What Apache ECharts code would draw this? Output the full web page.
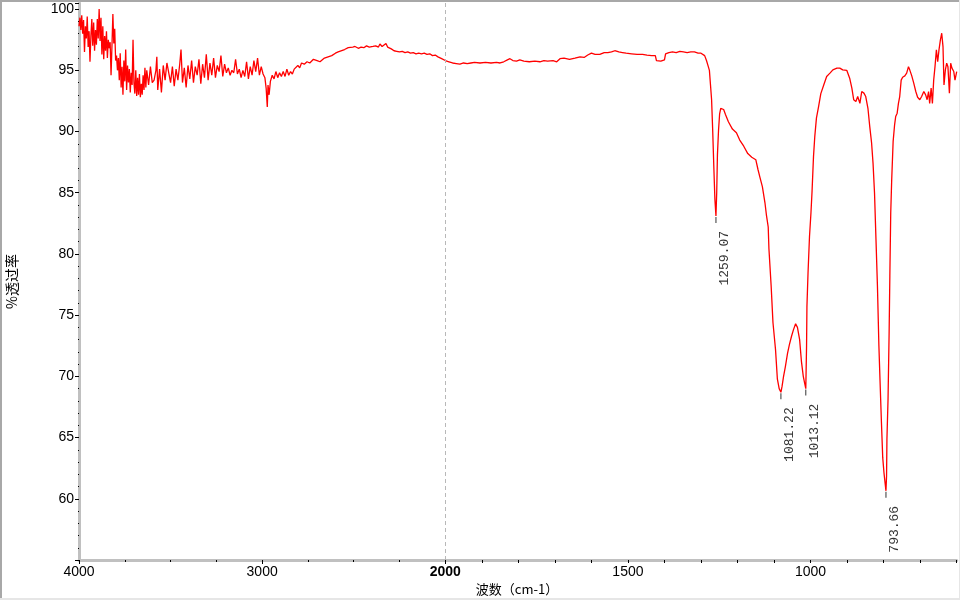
<!DOCTYPE html>
<html><head><meta charset="utf-8">
<script src="https://cdn.jsdelivr.net/npm/echarts@6/dist/echarts.min.js"></script>
<style>html,body{margin:0;padding:0;background:#fff}#c{width:960px;height:600px}</style>
</head><body><div id="c"></div>
<script>
// ---- data: [wavenumber cm-1, %T] ----
const spectrumHigh = [
[4000,98.6],[3995,99.3],[3990,98.3],[3985,99.5],[3980,98.0],[3975,99.1],[3970,96.5],[3965,98.6],[3960,97.6],[3955,99.4],
[3950,96.9],[3945,98.2],[3940,95.7],[3935,97.8],[3930,99.2],[3925,97.0],[3920,98.9],[3915,96.6],[3910,98.3],[3905,97.1],
[3900,99.2],[3895,97.6],[3890,100.0],[3885,97.4],[3880,99.3],[3875,96.3],[3870,98.6],[3865,95.9],[3860,97.8],[3855,96.6],
[3850,98.2],[3845,96.0],[3840,97.5],[3835,96.8],[3830,97.3],[3825,94.6],[3820,97.0],[3815,99.6],[3810,97.2],[3805,98.4],
[3800,95.8],[3795,96.2],[3790,95.0],[3785,96.0],[3780,94.2],[3775,96.4],[3770,93.6],[3765,95.3],[3760,93.0],[3755,95.8],
[3750,94.1],[3745,96.7],[3740,93.4],[3735,95.4],[3730,94.0],[3725,95.1],[3720,93.2],[3715,94.8],[3710,93.8],[3705,97.5],
[3700,94.0],[3695,93.1],[3690,95.0],[3685,92.9],[3680,94.4],[3675,93.0],[3670,94.7],[3665,92.8],[3660,93.9],[3655,93.0],
[3650,94.6],[3645,93.4],[3640,95.2],[3635,93.6],[3630,95.0],[3620,93.8],[3610,95.3],[3600,94.0],[3590,94.2],[3580,95.0],
[3575,96.1],[3570,93.4],[3560,95.1],[3550,93.2],[3540,95.4],[3530,94.2],[3520,95.6],[3510,94.8],[3500,94.0],[3490,95.3],
[3480,93.7],[3470,95.1],[3460,94.2],[3450,95.5],[3443,96.7],[3435,94.0],[3425,95.2],[3415,93.6],[3405,95.4],[3395,94.3],
[3385,95.8],[3375,94.0],[3365,95.3],[3355,94.6],[3345,95.9],[3335,93.9],[3325,95.5],[3315,94.4],[3305,96.3],[3295,94.2],
[3285,95.6],[3275,94.6],[3265,96.0],[3255,94.4],[3245,95.4],[3235,94.9],[3225,96.2],[3215,94.5],[3205,95.5],[3195,94.8],
[3185,95.2],[3175,94.6],[3165,95.0],[3155,94.8],[3145,95.9],[3135,94.7],[3125,95.1],[3115,94.4],[3105,95.0],[3095,94.5],
[3085,95.7],[3075,94.3],[3065,95.3],[3055,94.6],[3045,95.8],[3035,94.9],[3025,96.0],[3015,94.6],[3005,95.3],[2995,94.7],
[2985,94.4],[2978,93.5],[2972,92.0],[2968,93.8],[2962,93.0],[2955,94.1],[2945,94.6],[2935,94.3],[2925,94.9],[2915,94.4],
[2905,94.8],[2895,94.5],[2885,94.9],[2875,94.5],[2865,95.1],[2855,94.6],[2845,94.9],[2835,94.7],[2825,95.1],[2815,95.0],
[2805,95.4],[2795,95.2],[2785,95.6],[2770,95.5],[2755,95.7],[2740,95.6],[2720,95.9],[2700,95.8],[2684,95.7],[2660,96.0],
[2640,96.1],[2620,96.2],[2600,96.4],[2585,96.5],[2575,96.65],[2550,96.7],[2530,96.85],[2521,96.75],[2505,96.9],[2493,96.95],
[2475,96.8],[2460,96.9],[2445,96.85],[2430,97.0],[2415,96.9],[2405,97.05],[2395,96.95],[2380,97.0],[2365,96.9],[2357,97.15],
[2345,96.95],[2335,97.0],[2324,97.2],[2315,96.9],[2305,96.8],[2295,96.75],[2280,96.6],[2265,96.55],[2250,96.5],[2235,96.55],
[2220,96.45],[2205,96.5],[2190,96.4],[2175,96.45],[2160,96.35],[2145,96.4],[2130,96.35],[2115,96.4],[2100,96.3],[2085,96.35],
[2070,96.2],[2055,96.25],[2040,96.1],[2030,96.0],[2020,95.95],[2010,95.85],[2000,95.8]
];
const spectrumLow = [
[2000,95.8],[1990,95.7],[1980,95.6],[1970,95.55],[1960,95.5],[1950,95.6],[1940,95.55],[1930,95.6],[1920,95.65],[1905,95.6],
[1890,95.65],[1875,95.6],[1860,95.65],[1850,95.6],[1840,95.7],[1830,95.85],[1823,95.95],[1815,95.8],[1805,95.75],[1796,95.85],
[1785,95.75],[1770,95.7],[1755,95.75],[1741,95.7],[1730,95.8],[1720,95.75],[1705,95.8],[1695,95.7],[1686,95.95],[1675,96.0],
[1660,95.9],[1645,96.0],[1631,96.1],[1620,96.05],[1610,96.25],[1600,96.4],[1590,96.3],[1577,96.3],[1565,96.45],[1555,96.45],
[1545,96.5],[1536,96.6],[1525,96.5],[1515,96.45],[1505,96.4],[1490,96.35],[1475,96.3],[1460,96.3],[1448,96.25],[1435,96.2],
[1425,96.2],[1422,95.8],[1410,95.75],[1400,95.85],[1397,96.35],[1388,96.45],[1378,96.5],[1368,96.45],[1358,96.55],[1348,96.5],
[1338,96.45],[1328,96.5],[1318,96.5],[1308,96.4],[1300,96.4],[1295,96.45],[1290,96.2],[1285,95.8],[1281,95.4],[1277,95.0],
[1274,93.8],[1271,92.6],[1268,90.1],[1265,87.2],[1262,84.5],[1259.07,83.1],[1257,85.0],[1255,88.1],[1252,90.1],[1249,91.45],
[1246,91.9],[1242,91.96],[1238,91.8],[1233,91.4],[1225,90.8],[1214,90.2],[1203,89.9],[1194,89.3],[1183,88.8],[1172,88.2],
[1161,87.9],[1150,87.7],[1144,86.9],[1139,86.3],[1132,85.5],[1125,84.2],[1121,83.2],[1116,82.2],[1114,80.4],[1108,77.4],
[1103,74.4],[1096,72.2],[1091,69.8],[1086,69.0],[1081.22,68.7],[1078,69.2],[1074,70.0],[1069,70.8],[1063,71.9],[1058,72.6],
[1052,73.3],[1047,73.8],[1041,74.3],[1036,74.0],[1030,73.0],[1025,71.2],[1020,70.0],[1016,69.4],[1013.12,69.0],[1011,72.5],
[1010,75.7],[1007,78.45],[1003,81.4],[999,83.35],[996,85.1],[992,87.97],[988.5,89.6],[984,91.1],[978,92.05],[972,93.1],
[964,93.8],[956,94.5],[947,94.77],[939,95.04],[928,95.18],[920,95.18],[912,95.04],[901,95.0],[893,94.36],[887,93.55],
[882,92.6],[876,92.45],[871,92.86],[865,92.3],[860,93.27],[854,93.14],[849,92.86],[843,91.9],[838,90.4],[833,89.06],
[829,87.4],[825,85.0],[821,81.2],[817,77.4],[813,72.5],[810,69.75],[806,66.2],[802.5,63.36],[799,62.1],[793.66,60.65],
[792,61.86],[791,64.85],[788,68.1],[785,73.56],[783,78.2],[780.6,83.35],[778,86.0],[774,89.2],[770,90.55],[767,91.23],
[763,91.5],[759.5,92.3],[756,92.86],[752,94.2],[748,94.44],[742,94.55],[737,94.77],[732,95.3],[728.6,95.04],[723,94.55],
[717.6,93.95],[712,93.27],[707,92.8],[701,92.6],[696,92.86],[690,93.27],[685,93.0],[681,92.6],[677,93.27],[674,92.3],
[670,93.55],[666.5,92.3],[663,94.2],[659.4,95.3],[655.6,96.67],[652,95.7],[648.5,96.67],[644.6,97.49],[641,98.03],[637.5,96.94],
[634.8,93.8],[631,95.04],[627.4,95.58],[624,95.3],[620,93.14],[616.5,95.58],[613,95.18],[608,94.9],[604.7,94.2],[600,94.9]
];
const peakWavenumbers = [1259.07, 1081.22, 1013.12, 793.66];
const peakTransmittance = [83.1, 68.7, 69.0, 60.65];
const xLabelsHigh = [4000, 3000, 2000];
const xLabelsLow = [1500, 1000];
const yLabels = [60, 65, 70, 75, 80, 85, 90, 95, 100];
const xTitle = '波数（cm-1）';
const yTitle = '%透过率';

// ---- chart ----
const chart = echarts.init(document.getElementById('c'), null, {renderer: 'canvas'});
const FONT = 'Liberation Sans';
const axisLineStyle = {color: '#c0c0c0', width: 3};
const tickStyle = {color: '#000', width: 1};
const yRange = {min: 55, max: 100.5};
const xSplit = 445.3, plotLeft = 79, plotRight = 956.7, plotTop = 3, plotBottom = 560;

const option = {
  animation: false,
  backgroundColor: '#fff',
  grid: [
    {left: plotLeft, right: 960 - xSplit, top: plotTop, bottom: 600 - plotBottom},
    {left: xSplit, right: 960 - plotRight, top: plotTop, bottom: 600 - plotBottom}
  ],
  xAxis: [
    {gridIndex: 0, type: 'value', min: 2000, max: 4000, interval: 1000, inverse: true,
     axisLine: {lineStyle: axisLineStyle}, axisTick: {length: 4, lineStyle: tickStyle},
     minorTick: {show: true, splitNumber: 4, length: 2, lineStyle: tickStyle},
     splitLine: {show: false},
     axisLabel: {margin: 5, color: '#000', fontFamily: FONT, fontSize: 14,
       formatter: v => xLabelsHigh.includes(v) ? (v === 2000 ? '{b|' + v + '}' : String(v)) : '',
       rich: {b: {fontWeight: 'bold', color: '#000', fontFamily: FONT, fontSize: 14}}}},
    {gridIndex: 1, type: 'value', min: 600, max: 2000, interval: 100, inverse: true,
     axisLine: {lineStyle: axisLineStyle}, axisTick: {length: 3, lineStyle: tickStyle},
     splitLine: {show: false},
     axisLabel: {margin: 5, color: '#000', fontFamily: FONT, fontSize: 14,
       formatter: v => xLabelsLow.includes(v) ? String(v) : ''}}
  ],
  yAxis: [
    {gridIndex: 0, type: 'value', min: yRange.min, max: yRange.max, interval: 5,
     name: yTitle, nameLocation: 'middle', nameGap: 60,
     nameTextStyle: {fontFamily: 'Noto Sans CJK SC', fontSize: 14, color: '#000'},
     axisLine: {show: true, lineStyle: axisLineStyle}, axisTick: {show: true, length: 4, lineStyle: tickStyle},
     minorTick: {show: true, splitNumber: 5, length: 1, lineStyle: tickStyle},
     splitLine: {show: false},
     axisLabel: {margin: 5, color: '#000', fontFamily: FONT, fontSize: 14,
       formatter: v => yLabels.includes(v) ? String(v) : ''}},
    {gridIndex: 1, type: 'value', min: yRange.min, max: yRange.max, show: false, splitLine: {show: false}}
  ],
  series: [
    {type: 'line', xAxisIndex: 0, yAxisIndex: 0, data: spectrumHigh, showSymbol: false, symbol: 'none',
     lineStyle: {color: '#ff0000', width: 1.3}, clip: true, silent: true,
     markLine: {silent: true, symbol: ['none', 'none'], label: {show: false},
       lineStyle: {color: '#b8b8b8', type: [4, 3], width: 1}, data: [{xAxis: 2000}]}},
    {type: 'line', xAxisIndex: 1, yAxisIndex: 1, data: spectrumLow, showSymbol: false, symbol: 'none',
     lineStyle: {color: '#ff0000', width: 1.3}, clip: true, silent: true},
    {type: 'scatter', xAxisIndex: 1, yAxisIndex: 1, silent: true,
     data: peakWavenumbers.map((w, i) => [w, peakTransmittance[i]]),
     symbol: 'rect', symbolSize: [1, 6], symbolOffset: [0, 4], itemStyle: {color: '#000'},
     label: {show: true, position: [2.5, 14], rotate: 90, align: 'right', verticalAlign: 'top',
       fontFamily: 'Liberation Mono', fontSize: 13, color: '#000',
       formatter: p => p.value[0].toFixed(2)}}
  ],
  graphic: [
    {type: 'line', shape: {x1: 0, y1: 1, x2: 960, y2: 1}, style: {stroke: '#a8a8a8', lineWidth: 2}, silent: true},
    {type: 'line', shape: {x1: 1, y1: 0, x2: 1, y2: 600}, style: {stroke: '#a8a8a8', lineWidth: 2}, silent: true},
    {type: 'line', shape: {x1: 959.5, y1: 0, x2: 959.5, y2: 600}, style: {stroke: '#e6e6e6', lineWidth: 1}, silent: true},
    {type: 'line', shape: {x1: 0, y1: 599, x2: 960, y2: 599}, style: {stroke: '#e6e6e6', lineWidth: 2}, silent: true},
    {type: 'text', x: 517, y: 589, silent: true,
     style: {text: xTitle, fill: '#000', font: '13px "Noto Sans CJK SC"', textAlign: 'center', textVerticalAlign: 'middle'}}
  ]
};
chart.setOption(option);
</script>
</body></html>
